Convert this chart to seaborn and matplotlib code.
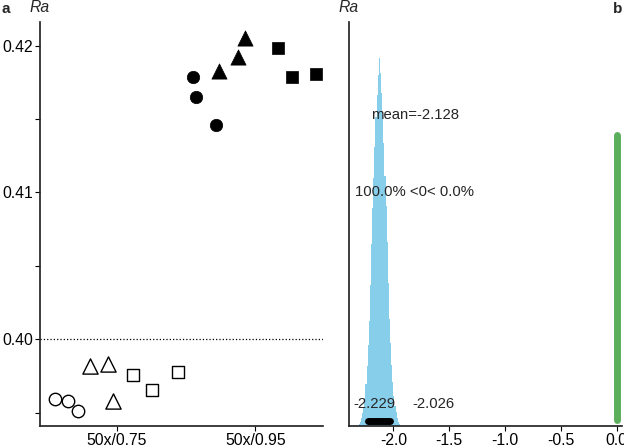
import numpy as np
import pandas as pd
import matplotlib
matplotlib.use('Agg')
import matplotlib.pyplot as plt
import seaborn as sns

# Panel a: Ra per objective, shape = sample group, open/filled = condition
objective = ['50x/0.75'] * 9 + ['50x/0.95'] * 9
shape = ['circle'] * 3 + ['triangle'] * 3 + ['square'] * 3
shape = shape * 2
x_offset = [-0.446, -0.354, -0.278, -0.193, -0.065, -0.025, 0.118, 0.255, 0.445,
            -0.450, -0.429, -0.282, -0.260, -0.123, -0.072, 0.164, 0.265, 0.441]
ra = [0.39591, 0.39580, 0.39514, 0.39820, 0.39834, 0.39582, 0.39755, 0.39655, 0.39779,
      0.41786, 0.41653, 0.41459, 0.41828, 0.41921, 0.42050, 0.41986, 0.41789, 0.41807]
filled = [False] * 9 + [True] * 9

# Panel b: posterior of the difference (bin heights)
post_heights = [0.004, 0.010, 0.020, 0.032, 0.046, 0.070, 0.105, 0.148, 0.200, 0.260,
                0.350, 0.450, 0.540, 0.615, 0.690, 0.765, 0.820, 0.870, 0.911,
                0.875, 0.825, 0.770, 0.700, 0.620, 0.545, 0.455, 0.355, 0.265,
                0.205, 0.150, 0.110, 0.075, 0.050, 0.034, 0.021, 0.011, 0.005]
post_centers = np.round(np.arange(-2.305, -1.940, 0.01), 3)[:len(post_heights)]
post_mean = -2.128
ci_low, ci_high = -2.229, -2.026
pct_below, pct_above = 100.0, 0.0

sns.set_theme(style='ticks')
plt.rcParams['font.family'] = ['Liberation Sans', 'DejaVu Sans']
plt.rcParams['font.size'] = 10.5

df = pd.DataFrame({'objective': objective, 'shape': shape, 'x_offset': x_offset,
                   'Ra': ra, 'filled': filled})
cats = ['50x/0.75', '50x/0.95']
df['xpos'] = df['objective'].map({c: i for i, c in enumerate(cats)}) + df['x_offset']
markers = {'circle': 'o', 'triangle': '^', 'square': 's'}
sizes = {'circle': 80, 'triangle': 120, 'square': 72}

fig = plt.figure(figsize=(6.24, 4.47), dpi=100)
ax1 = fig.add_axes([40 / 624, 21 / 447, 283 / 624, 404 / 447])
ax2 = fig.add_axes([349 / 624, 21 / 447, 273 / 624, 404 / 447])

for shp, mk in markers.items():
    sub = df[(df['shape'] == shp) & (~df['filled'])]
    sns.scatterplot(data=sub, x='xpos', y='Ra', marker=mk, s=sizes[shp], color='white',
                    edgecolor='black', linewidth=1, legend=False, ax=ax1)
    sub = df[(df['shape'] == shp) & (df['filled'])]
    sns.scatterplot(data=sub, x='xpos', y='Ra', marker=mk, s=sizes[shp], color='black',
                    edgecolor='black', linewidth=0.5, legend=False, ax=ax1)

ax1.axhline(0.40, ls=':', color='black', lw=0.9)
ax1.set_xlim(-0.555, 1.49)
ax1.set_ylim(0.39409, 0.42161)
ax1.set_xticks(range(len(cats)))
ax1.set_xticklabels(cats)
yt = [0.395, 0.400, 0.405, 0.410, 0.415, 0.420]
ax1.set_yticks(yt)
ax1.set_yticklabels(['' if abs(v * 1000 % 10 - 5) < 0.1 else f'{v:.2f}' for v in yt])
ax1.set_xlabel('')
ax1.set_ylabel('')
sns.despine(ax=ax1)

# Panel b
post_df = pd.DataFrame({'diff': post_centers, 'w': post_heights})
sns.histplot(data=post_df, x='diff', weights='w', binwidth=0.01,
             binrange=(float(post_centers[0]) - 0.005, float(post_centers[-1]) + 0.005),
             color='#87CEEB', alpha=1, linewidth=0, ax=ax2)
ax2.plot([ci_low, ci_high], [0.012, 0.012], color='black', lw=5, solid_capstyle='round')
ax2.plot([0, 0], [0.015, 0.72], color='#5BAE5B', lw=5, solid_capstyle='round')
ax2.text(-2.20, 0.77, f'mean={post_mean:.3f}', ha='left', va='center', fontsize=10.7)
ax2.text(-2.343, 0.58, f'{pct_below:.1f}% <0< {pct_above:.1f}%', ha='left', va='center',
         fontsize=10.7)
ax2.text(-2.361, 0.054, f'{ci_low:.3f}', ha='left', va='center', fontsize=10.7)
ax2.text(-1.833, 0.054, f'{ci_high:.3f}', ha='left', va='center', fontsize=10.7)
ax2.set_xlim(-2.397, 0.047)
ax2.set_ylim(0, 1)
ax2.set_xticks([-2.0, -1.5, -1.0, -0.5, 0.0])
ax2.set_xticklabels(['-2.0', '-1.5', '-1.0', '-0.5', '0.0'])
ax2.set_yticks([])
ax2.set_xlabel('')
ax2.set_ylabel('')
sns.despine(ax=ax2)

for ax in (ax1, ax2):
    ax.tick_params(length=3.5, width=0.8, labelsize=11.3, colors='black', pad=1.5)
    ax.text(0, 1.035, 'Ra', transform=ax.transAxes, ha='center', va='center',
            style='italic', fontsize=11.3)

fig.text(2 / 624, 1 - 9 / 447, 'a', weight='bold', ha='left', va='center', fontsize=11)
fig.text(622 / 624, 1 - 9 / 447, 'b', weight='bold', ha='right', va='center', fontsize=11)

fig.savefig('out.png', dpi=100)
